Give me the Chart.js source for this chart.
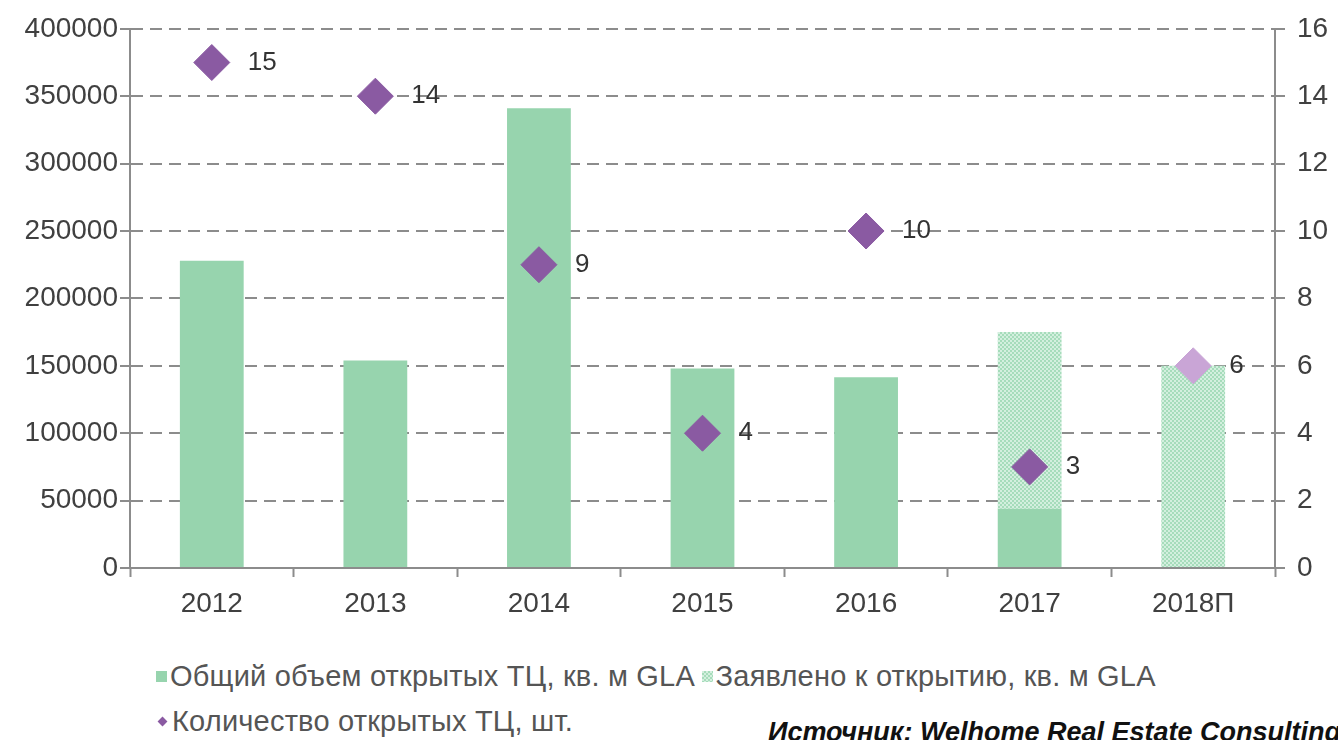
<!DOCTYPE html>
<html>
<head>
<meta charset="utf-8">
<script src="https://cdn.jsdelivr.net/npm/chart.js@4/dist/chart.umd.min.js"></script>
<style>
  html, body { margin: 0; padding: 0; background: #fff; width: 1338px; height: 740px; overflow: hidden; }
  #wrap { position: absolute; left: 0; top: 0; width: 1338px; height: 625px; }
  .leg { position: absolute; font-family: "Liberation Sans", Arial, sans-serif; font-size: 29px; color: #555; white-space: nowrap; letter-spacing: 0.2px; }
  .sq { display: inline-block; width: 11px; height: 11px; margin-right: 3px; vertical-align: 4px; }
  .dm { display: inline-block; width: 7px; height: 7px; margin: 0 6px 0 3px; background: #8a5aa2; transform: rotate(45deg); vertical-align: 6px; }
  #src { position: absolute; left: 768px; top: 717px; font-family: "Liberation Sans", Arial, sans-serif; font-size: 27px; font-weight: bold; font-style: italic; color: #111; white-space: nowrap; }
</style>
</head>
<body>
<div id="wrap"><canvas id="c"></canvas></div>
<div class="leg" style="left:156px;top:660px"><span class="sq" style="background:#97d4ae"></span>Общий объем открытых ТЦ, кв. м GLA <span class="sq" id="hatchSq"></span>Заявлено к открытию, кв. м GLA</div>
<div class="leg" style="left:156px;top:705px"><span class="dm"></span>Количество открытых ТЦ, шт.</div>
<div id="src">Источник: Welhome Real Estate Consulting</div>
<script>
const years = ["2012", "2013", "2014", "2015", "2016", "2017", "2018П"]
const openedArea = [228000, 154000, 341000, 148000, 141500, 44000, 0]
const declaredArea = [0, 0, 0, 0, 0, 131000, 150000]
const openedCount = [15, 14, 9, 4, 10, 3, 6]

const solid = "#97d4ae"
const purple = "#8a5aa2"
const purpleLight = "#c9a5d6"
const grid = "#8c8c8c"
const text = "#404040"

// small checker pattern for the "declared" bars
const makePattern = () => {
  const p = document.createElement("canvas")
  p.width = 4; p.height = 4
  const c = p.getContext("2d")
  c.fillStyle = "#d3efde"
  c.fillRect(0, 0, 4, 4)
  c.fillStyle = "#a6dcbb"
  c.fillRect(0, 0, 2, 2)
  c.fillRect(2, 2, 2, 2)
  return document.getElementById("c").getContext("2d").createPattern(p, "repeat")
}
const hatch = makePattern()
document.getElementById("hatchSq").style.background = "repeating-conic-gradient(#a6dcbb 0 25%, #d3efde 0 50%) 0 0 / 4px 4px"

const pointLabels = {
  id: "pointLabels",
  afterDatasetsDraw(chart) {
    const meta = chart.getDatasetMeta(2)
    const ctx = chart.ctx
    ctx.save()
    ctx.font = "26px 'Liberation Sans', Arial, sans-serif"
    ctx.fillStyle = "#333"
    ctx.textAlign = "left"
    ctx.textBaseline = "middle"
    meta.data.forEach((pt, i) => {
      ctx.fillText(String(openedCount[i]), pt.x + 36, pt.y)
    })
    ctx.restore()
  }
}

const tickFont = { family: "'Liberation Sans', Arial, sans-serif", size: 28 }

new Chart(document.getElementById("c"), {
  type: "bar",
  data: {
    labels: years,
    datasets: [
      { label: "Общий объем открытых ТЦ, кв. м GLA", data: openedArea, backgroundColor: solid, yAxisID: "y", order: 2 },
      { label: "Заявлено к открытию, кв. м GLA", data: declaredArea, backgroundColor: hatch, yAxisID: "y", order: 2 },
      {
        type: "line",
        label: "Количество открытых ТЦ, шт.",
        data: openedCount,
        yAxisID: "y1",
        showLine: false,
        pointStyle: "rectRot",
        pointRadius: 18,
        pointHoverRadius: 18,
        pointBackgroundColor: openedCount.map((v, i) => i === openedCount.length - 1 ? purpleLight : purple),
        pointBorderColor: openedCount.map((v, i) => i === openedCount.length - 1 ? purpleLight : purple),
        order: 1
      }
    ]
  },
  options: {
    responsive: true,
    maintainAspectRatio: false,
    animation: false,
    categoryPercentage: 1,
    barPercentage: 0.39,
    layout: { padding: { top: 28, left: 0, right: 0, bottom: 0 } },
    plugins: { legend: { display: false }, tooltip: { enabled: false } },
    scales: {
      x: {
        stacked: true,
        grid: { offset: true, drawOnChartArea: false, drawTicks: true, tickLength: 9, color: grid, tickWidth: 2 },
        border: { display: true, color: grid, width: 2 },
        ticks: { color: text, font: tickFont, padding: 10 },
        afterFit: (s) => { s.height = 57 }
      },
      y: {
        stacked: true,
        min: 0,
        max: 400000,
        grid: { color: grid, lineWidth: 2, tickLength: 10, tickBorderDash: [], tickColor: grid },
        border: { display: true, color: grid, width: 2, dash: [12, 7] },
        ticks: { stepSize: 50000, color: text, font: tickFont, padding: 2, callback: (v) => String(v) },
        afterFit: (s) => { s.width = 130 }
      },
      y1: {
        position: "right",
        min: 0,
        max: 16,
        grid: { drawOnChartArea: false, tickLength: 10, color: grid, lineWidth: 2 },
        border: { display: true, color: grid, width: 2 },
        ticks: { stepSize: 2, color: text, font: tickFont, padding: 12 },
        afterFit: (s) => { s.width = 63 }
      }
    }
  },
  plugins: [pointLabels]
})
</script>
</body>
</html>
